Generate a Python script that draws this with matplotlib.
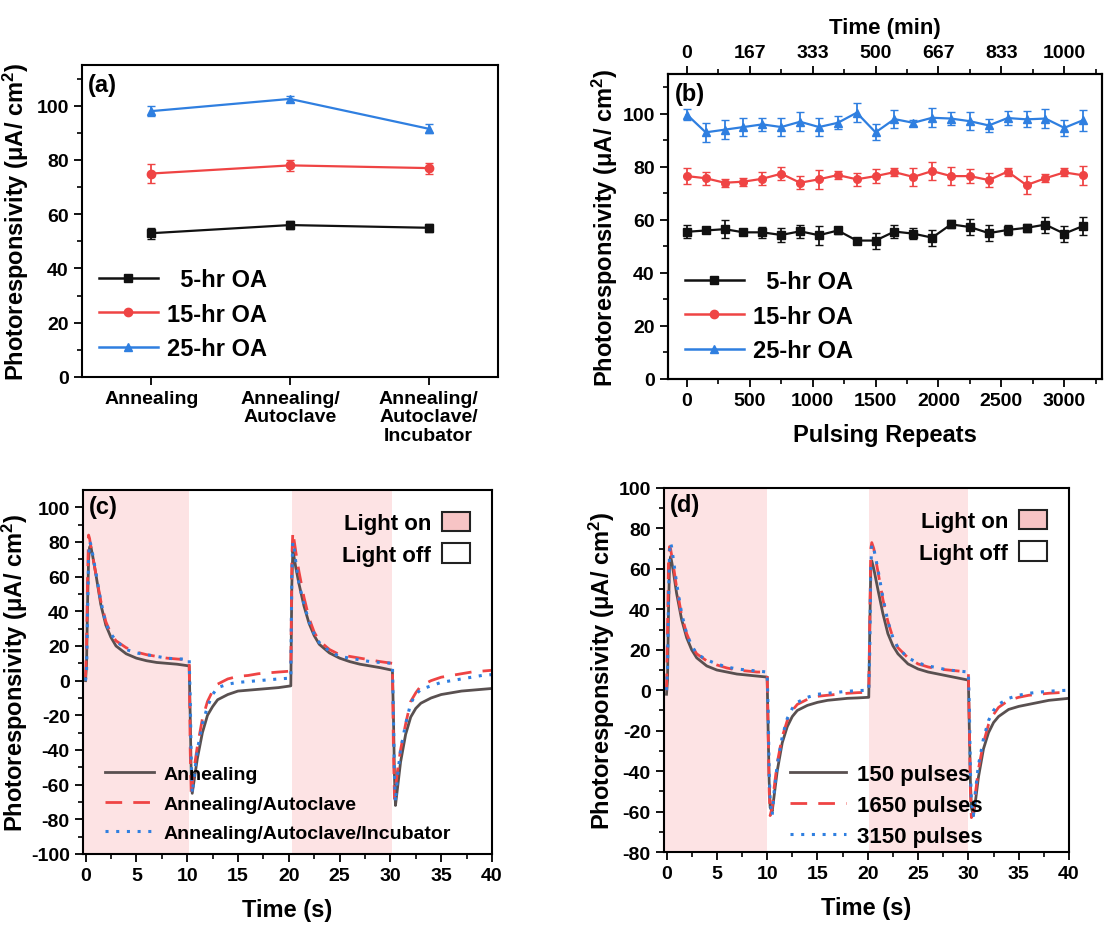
import numpy as np
import matplotlib
matplotlib.use("Agg")
import matplotlib.pyplot as plt
from matplotlib.patches import Patch
from matplotlib.lines import Line2D

plt.rcParams['font.family'] = ['Liberation Sans', 'DejaVu Sans']
plt.rcParams['font.weight'] = 'bold'
plt.rcParams['axes.labelweight'] = 'bold'
plt.rcParams['axes.unicode_minus'] = False
plt.rcParams['mathtext.fontset'] = 'custom'
plt.rcParams['mathtext.bf'] = 'Liberation Sans:bold'
plt.rcParams['mathtext.rm'] = 'Liberation Sans:bold'
plt.rcParams['mathtext.default'] = 'bf'

# ---- (a) treatment comparison
treatments = ["Annealing", "Annealing/\nAutoclave", "Annealing/\nAutoclave/\nIncubator"]
oa_labels = ["  5-hr OA", "15-hr OA", "25-hr OA"]
a_5hr = [53, 56, 55]
a_5hr_err = [2, 1.5, 1.5]
a_15hr = [75, 78, 77]
a_15hr_err = [3.5, 2, 2]
a_25hr = [98, 102.5, 91.5]
a_25hr_err = [1.8, 1, 1.6]

# ---- (b) stability over pulsing repeats
repeats = [0, 150, 300, 450, 600, 750, 900, 1050, 1200, 1350, 1500,
           1650, 1800, 1950, 2100, 2250, 2400, 2550, 2700, 2850, 3000, 3150]
b_5hr = [55.5, 56, 56.5, 55.3, 55.3, 54.3, 55.7, 54.2, 56, 52.2, 52.2,
         55.6, 54.8, 53.3, 58.3, 57.3, 55, 56.2, 57, 58.2, 54.8, 57.7]
b_5hr_err = [2.5, 1, 3.5, 1, 2, 2.5, 2.5, 3.5, 1.5, 1, 3,
             2.5, 2, 3, 1.5, 3, 3, 2, 1.5, 3, 3, 3.5]
b_15hr = [76.5, 75.7, 74, 74.4, 75.5, 77.4, 74, 75.3, 76.9, 75.3, 76.5,
          78, 76.2, 78.4, 76.5, 76.5, 75, 78.2, 73.1, 75.7, 77.9, 76.8]
b_15hr_err = [3, 2.5, 1.5, 1.5, 2.5, 2.5, 2.5, 3.5, 1.5, 2.5, 2.5,
              1.5, 3.5, 3.5, 3.5, 2.5, 2.5, 1.5, 3.5, 1.5, 1.5, 3.5]
b_25hr = [99.7, 93, 94, 95, 96, 95, 97, 95, 96.6, 100.4, 93,
          98, 96.6, 98.5, 98.2, 97.2, 95.6, 98.4, 97.9, 98.2, 94.7, 97.6]
b_25hr_err = [2, 3.5, 3.5, 3.5, 2.5, 3.5, 3.5, 3.5, 2.5, 3.5, 3,
              3.5, 1.2, 3.5, 2.5, 3.5, 2.5, 2.8, 3, 3.5, 3, 4]
time_ticks = [0, 500, 1000, 1500, 2000, 2500, 3000]
time_labels = ["0", "167", "333", "500", "667", "833", "1000"]

# ---- (c) transients for each treatment
t_c = [0, 0.1, 0.2, 0.3, 0.4, 0.5, 0.7, 1.0, 1.5, 2, 2.5, 3, 4, 5, 6, 7, 8, 9,
       10.2, 10.3, 10.4, 10.5, 10.7, 11, 11.5, 12, 12.5, 13, 14, 15, 16, 17, 18, 19,
       20.2, 20.3, 20.4, 20.5, 20.7, 21, 21.5, 22, 22.5, 23, 24, 25, 26, 27, 28, 29,
       30.2, 30.3, 30.4, 30.5, 30.7, 31, 31.5, 32, 32.5, 33, 34, 35, 36, 37, 38, 39, 40]
c_ann = [0, 10, 45, 70, 77, 78, 72, 62, 44, 32, 25, 20, 15.5, 13, 11.5, 10.5, 10, 9.5,
         8.5, -20, -55, -65, -57, -45, -30, -20, -15, -11, -8, -6, -5.5, -5, -4.5, -4,
         -3, 55, 75, 72, 65, 56, 43, 33, 26, 21, 16, 13, 11, 9.5, 8.5, 7.5,
         6, -20, -55, -72, -62, -47, -31, -21, -16, -13, -10, -8, -7, -6, -5.5, -5, -4.5]
c_auto = [2, 20, 60, 84, 82, 78, 72, 62, 46, 34, 27, 23, 19, 16.5, 15, 14, 13, 12.5,
          12, -40, -67, -60, -50, -38, -22, -12, -6, -2, 1, 2.5, 3, 4, 4.5, 5,
          5.5, 70, 86, 82, 74, 63, 48, 36, 28, 23, 18, 15, 14, 13, 12, 11,
          10, -40, -68, -62, -52, -40, -25, -12, -7, -3, 0, 2, 3, 4, 5, 5.5, 6]
c_incu = [0, 5, 40, 70, 80, 79, 73, 63, 46, 33, 27, 23, 18, 16, 15, 14, 13, 12.5,
          12.5, -10, -45, -65, -55, -40, -25, -15, -8, -4, -2, -1, -0.5, 0, 0.5, 1,
          1.5, 60, 80, 78, 68, 56, 44, 34, 27, 22, 17, 14, 13, 12, 11, 10.5,
          10, -20, -55, -70, -55, -40, -25, -13, -8, -5, -3, -1, 0, 1, 2, 3, 3.5]
c_labels = ["Annealing", "Annealing/Autoclave", "Annealing/Autoclave/Incubator"]

# ---- (d) transients after pulsing
t_d = [0, 0.1, 0.2, 0.3, 0.4, 0.5, 0.7, 1.0, 1.5, 2, 2.5, 3, 4, 5, 6, 7, 8, 9,
       10.0, 10.1, 10.2, 10.3, 10.5, 10.7, 11, 11.5, 12, 12.5, 13, 14, 15, 16, 17, 18, 19,
       20.1, 20.2, 20.3, 20.4, 20.6, 21, 21.5, 22, 22.5, 23, 24, 25, 26, 27, 28, 29,
       30.0, 30.1, 30.2, 30.3, 30.5, 30.7, 31, 31.5, 32, 32.5, 33, 34, 35, 36, 37, 38, 39, 40]
d_150 = [-2, 5, 40, 62, 66, 64, 58, 48, 35, 26, 20, 16, 12, 10, 9, 8, 7.5, 7,
         6.5, -20, -45, -58, -60, -52, -40, -26, -18, -13, -10, -7.5, -6, -5, -4.5, -4, -3.8,
         -3.5, 30, 60, 64, 60, 50, 38, 28, 22, 18, 13, 10.5, 9, 8, 7, 6,
         5, -20, -45, -58, -62, -55, -43, -29, -21, -16, -13, -9.5, -8, -7, -6, -5, -4.5, -4]
d_1650 = [0, 30, 65, 71, 70, 67, 61, 51, 37, 28, 22, 18, 14.5, 12.5, 11, 10, 9.5, 9,
          9, -20, -50, -62, -58, -48, -36, -23, -15, -10, -7, -4.5, -3, -2.5, -2, -1.5, -1.2,
          -1, 35, 70, 73, 70, 59, 45, 34, 26, 21, 16, 13, 11.5, 10.5, 10, 9.5,
          9, -20, -50, -63, -60, -51, -39, -26, -17, -12, -8.5, -5, -3.5, -2.5, -2, -1.5, -1.2, -1]
d_3150 = [0, 10, 45, 68, 73, 71, 64, 53, 38, 28, 22, 18, 15, 13, 11.5, 10.5, 10, 9.5,
          9, -10, -40, -55, -62, -50, -37, -23, -14, -9, -6, -3.5, -2, -1.5, -1, -0.5, -0.2,
          0, 20, 60, 72, 70, 60, 46, 34, 26, 21, 16, 13.5, 12, 11, 10, 9.5,
          9, -10, -40, -55, -62, -50, -37, -24, -15, -10, -7, -4, -2.5, -1.5, -1, -0.5, -0.2, 0]
d_labels = ["150 pulses", "1650 pulses", "3150 pulses"]

light_on_c = [(10.2,), (20.3, 30.2)]
light_on_d = [(10.0,), (20.1, 30.0)]

black = '#111111'
red = '#ef4444'
blue = '#2f7fe0'
gray = '#595050'
shade = '#fde3e4'
ylab = "Photoresponsivity (μA/ cm$^2$)"

W, H = 1114, 928
fig = plt.figure(figsize=(W / 100, H / 100), dpi=100)


def box(l, r, t, b):
    return [l / W, 1 - b / H, (r - l) / W, (b - t) / H]


def style(ax):
    for s in ax.spines.values():
        s.set_linewidth(1.5)
    ax.tick_params(direction='out', width=1.3, length=6, labelsize=14)
    ax.tick_params(which='minor', direction='out', width=1.2, length=3.5)
    for lab in ax.get_xticklabels() + ax.get_yticklabels():
        lab.set_fontweight('bold')


def oa_handles():
    return [Line2D([], [], color=black, marker='s', ms=6, lw=1.8),
            Line2D([], [], color=red, marker='o', ms=6, lw=1.8),
            Line2D([], [], color=blue, marker='^', ms=6, lw=1.8)]


# (a)
ax = fig.add_axes(box(82, 498, 66, 378))
xa = np.arange(1, len(treatments) + 1)
for y, e, c, m in [(a_5hr, a_5hr_err, black, 's'),
                   (a_15hr, a_15hr_err, red, 'o'),
                   (a_25hr, a_25hr_err, blue, '^')]:
    ax.errorbar(xa, y, yerr=e, color=c, marker=m, ms=6, lw=1.6, capsize=3,
                elinewidth=1.3)
ax.set_xlim(0.5, 3.5)
ax.set_ylim(0, 115)
ax.set_xticks(xa)
ax.set_yticks([0, 20, 40, 60, 80, 100])
ax.set_yticks(np.arange(10, 115, 20), minor=True)
style(ax)
ax.set_xticklabels(treatments, fontsize=14, fontweight='bold', linespacing=1.1)
ax.set_ylabel(ylab, fontsize=17, labelpad=4)
ax.text(0.015, 0.975, "(a)", transform=ax.transAxes, fontsize=17, fontweight='bold',
        va='top', ha='left')
ax.legend(oa_handles(), oa_labels, loc='lower left', frameon=False, handlelength=2.5,
          handletextpad=0.4, labelspacing=0.5, borderaxespad=0.3,
          prop={'size': 17, 'weight': 'bold'})

# (b)
ax = fig.add_axes(box(668, 1102, 75, 380))
for y, e, c, m in [(b_5hr, b_5hr_err, black, 's'),
                   (b_15hr, b_15hr_err, red, 'o'),
                   (b_25hr, b_25hr_err, blue, '^')]:
    ax.errorbar(repeats, y, yerr=e, color=c, marker=m, ms=5.5, lw=1.6, capsize=3,
                elinewidth=1.3)
ax.set_xlim(-150, 3300)
ax.set_ylim(0, 115)
ax.set_xticks(time_ticks)
ax.set_xticks(np.arange(250, 3300, 500), minor=True)
ax.set_yticks([0, 20, 40, 60, 80, 100])
ax.set_yticks(np.arange(10, 115, 20), minor=True)
style(ax)
ax.set_ylabel(ylab, fontsize=17, labelpad=2)
ax.set_xlabel("Pulsing Repeats", fontsize=17, labelpad=10)
ax.text(0.015, 0.975, "(b)", transform=ax.transAxes, fontsize=17, fontweight='bold',
        va='top', ha='left')
ax.legend(oa_handles(), oa_labels, loc='lower left', frameon=False, handlelength=2.5,
          handletextpad=0.4, labelspacing=0.5, borderaxespad=0.3,
          prop={'size': 17, 'weight': 'bold'})
axt = ax.twiny()
axt.set_xlim(ax.get_xlim())
axt.set_xticks(time_ticks)
axt.set_xticklabels(time_labels)
axt.set_xticks(np.arange(250, 3300, 500), minor=True)
style(axt)
axt.set_xlabel("Time (min)", fontsize=16, labelpad=8)


def transient(ax, t, curves, labels, on, ylim, yticks, tag, leg_anchor, leg_size, leg_sp):
    x0 = -0.25
    ax.axvspan(x0, on[0][0], color=shade, lw=0, zorder=0)
    ax.axvspan(on[1][0], on[1][1], color=shade, lw=0, zorder=0)
    styles = [dict(color=gray, ls='-', lw=2),
              dict(color=red, ls=(0, (6, 4)), lw=2),
              dict(color=blue, ls=(0, (1, 2.5)), lw=2.2)]
    hs = []
    for y, st, lab in zip(curves, styles, labels):
        h, = ax.plot(t, y, label=lab, **st)
        hs.append(h)
    ax.set_xlim(x0, 40)
    ax.set_ylim(*ylim)
    ax.set_xticks(np.arange(0, 41, 5))
    ax.set_xticks(np.arange(2.5, 40, 5), minor=True)
    ax.set_yticks(yticks)
    ax.set_yticks(np.arange(yticks[0] + 10, ylim[1], 20), minor=True)
    style(ax)
    ax.set_ylabel(ylab, fontsize=17, labelpad=1)
    ax.set_xlabel("Time (s)", fontsize=17, labelpad=10)
    ax.text(0.015, 0.985, tag, transform=ax.transAxes, fontsize=17, fontweight='bold',
            va='top', ha='left')
    leg1 = ax.legend(hs, labels, loc='lower left', bbox_to_anchor=leg_anchor,
                     frameon=False, handlelength=2.5, handletextpad=0.5,
                     labelspacing=leg_sp, borderaxespad=0,
                     prop={'size': leg_size, 'weight': 'bold'})
    ax.add_artist(leg1)
    ph = [Patch(facecolor='#f7c4c5', edgecolor='#222222', lw=1.5),
          Patch(facecolor='white', edgecolor='#222222', lw=1.5)]
    ax.legend(ph, ["Light on", "Light off"], loc='upper right', frameon=False,
              markerfirst=False, handlelength=1.25, handleheight=0.95,
              handletextpad=0.5, labelspacing=0.4, borderaxespad=0.6,
              prop={'size': 16, 'weight': 'bold'})


ax = fig.add_axes(box(83, 492, 491, 855))
transient(ax, t_c, [c_ann, c_auto, c_incu], c_labels, light_on_c, (-100, 110),
          np.arange(-100, 101, 20), "(c)", (0.035, 0.012), 14, 0.6)

ax = fig.add_axes(box(664, 1069, 489, 853))
transient(ax, t_d, [d_150, d_1650, d_3150], d_labels, light_on_d, (-80, 100),
          np.arange(-80, 101, 20), "(d)", (0.29, -0.01), 16, 0.45)

fig.savefig("out.png", dpi=100)
